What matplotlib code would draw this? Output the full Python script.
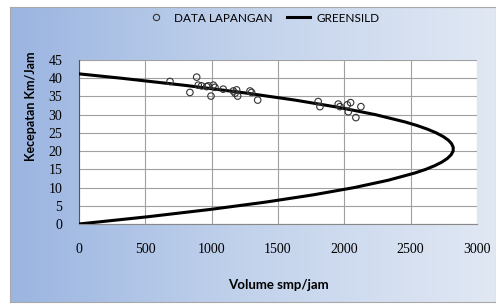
import numpy as np
import matplotlib.pyplot as plt
from matplotlib.lines import Line2D
from matplotlib.colors import LinearSegmentedColormap

# field data (volume smp/jam, speed km/jam)
data_volume = [686, 887, 836, 899, 924, 962, 975, 1012, 995, 1025, 1087,
               1163, 1188, 1176, 1196, 1289, 1301, 1347,
               1803, 1816, 1954, 1967, 2022, 2030, 2047, 2087, 2125]
data_speed = [39.1, 40.3, 36.1, 38.1, 37.9, 37.7, 37.9, 38.1, 35.1, 37.5, 37.0,
              36.5, 36.8, 35.9, 35.1, 36.5, 36.1, 34.0,
              33.6, 32.2, 32.9, 32.2, 32.7, 30.8, 33.3, 29.2, 32.2]

# Greenshields curve
gs_speed = [0, 2, 4, 6, 8, 10, 12, 14, 15, 16, 17, 18, 19, 20, 21, 22, 23,
            24, 25, 26, 27, 28, 30, 32, 34, 36, 38, 40, 41.2]
gs_volume = [0, 521, 990, 1405, 1766, 2075, 2330, 2532, 2614, 2681, 2736, 2777,
             2805, 2820, 2821, 2809, 2784, 2745, 2693, 2628, 2550, 2458,
             2235, 1958, 1628, 1245, 809, 319, 0]

x_ticks = [0, 500, 1000, 1500, 2000, 2500, 3000]
y_ticks = [0, 5, 10, 15, 20, 25, 30, 35, 40, 45]

fig = plt.figure(figsize=(4.96, 3.05), dpi=100)
fig.patch.set_facecolor('white')

# gradient background of the chart area
bg = fig.add_axes([10 / 496, 3 / 305, 1 - 10 / 496, 1 - 10 / 305])
grad = np.linspace(0, 1, 256).reshape(1, -1)
cmap = LinearSegmentedColormap.from_list('bg', ['#9bb5e1', '#c3d3ec', '#e1e8f4'])
bg.imshow(grad, aspect='auto', cmap=cmap, extent=[0, 1, 0, 1])
bg.set_xticks([])
bg.set_yticks([])
for s in bg.spines.values():
    s.set_color('#a8a8a8')
    s.set_linewidth(0.8)

ax = fig.add_axes([79 / 496, 81 / 305, 398 / 496, 164 / 305])
ax.set_facecolor('white')
ax.plot(gs_volume, gs_speed, color='black', lw=2.2, solid_capstyle='round',
        solid_joinstyle='round', zorder=3)
ax.scatter(data_volume, data_speed, s=22, facecolors='none', edgecolors='#333333',
           linewidths=0.8, zorder=4)

ax.set_xlim(0, 3000)
ax.set_ylim(0, 45)
ax.set_xticks(x_ticks)
ax.set_yticks(y_ticks)
ax.grid(True, color='#a0a0a0', lw=0.8)
ax.set_axisbelow(True)
ax.tick_params(length=0, labelsize=10, pad=12)
ax.tick_params(axis='x', pad=14)
for lab in ax.get_xticklabels() + ax.get_yticklabels():
    lab.set_fontfamily('Liberation Serif')
for side in ['top', 'right']:
    ax.spines[side].set_visible(False)
ax.spines['left'].set_color('#555555')
ax.spines['bottom'].set_color('#888888')

ax.set_xlabel('Volume smp/jam', fontsize=9.5, fontweight='bold', family='Lato')
ax.set_ylabel('Kecepatan Km/Jam', fontsize=9, fontweight='bold', family='Lato')
ax.xaxis.set_label_coords(0.5, -0.335)
ax.yaxis.set_label_coords(-0.105, 0.72)

handles = [Line2D([], [], marker='o', ls='none', mfc='none', mec='#333333', ms=4.5, mew=0.8),
           Line2D([], [], color='black', lw=2.2)]
fig.legend(handles, ['DATA LAPANGAN', 'GREENSILD'], loc='center',
           bbox_to_anchor=(262 / 496, 1 - 18 / 305), ncol=2, frameon=False,
           prop={'family': 'Lato', 'size': 8.5}, handlelength=2.0, columnspacing=1.2,
           handletextpad=0.5)

fig.savefig('out.png', dpi=100)
